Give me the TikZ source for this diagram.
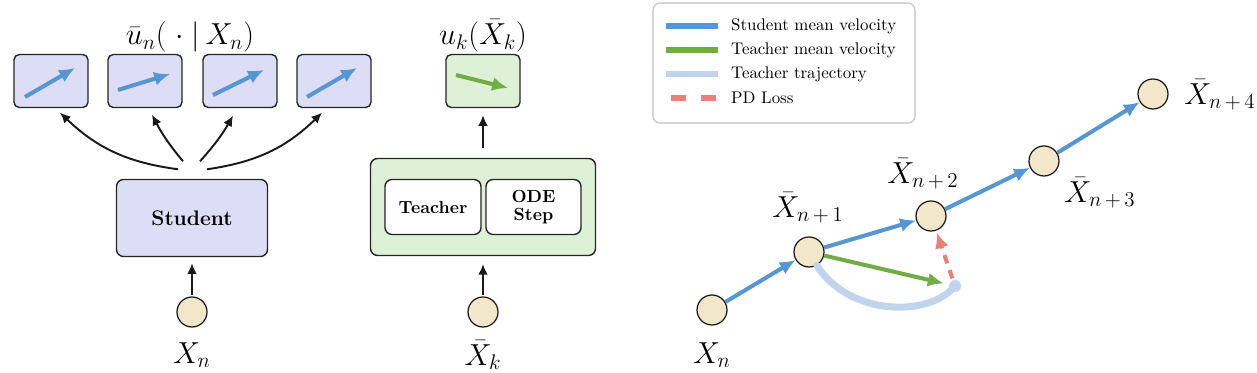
\documentclass[tikz,border=0pt]{standalone}
\usepackage{amsmath}
\usepackage{tikz}
\usetikzlibrary{arrows.meta,positioning}

\definecolor{stublue}{RGB}{86,151,211}
\definecolor{teagreen}{RGB}{112,173,71}
\definecolor{trajblue}{RGB}{192,213,237}
\definecolor{pdred}{RGB}{232,130,120}
\definecolor{stufill}{RGB}{221,221,246}
\definecolor{teafill}{RGB}{221,241,214}
\definecolor{ptfill}{RGB}{242,231,202}

\begin{document}
\begin{tikzpicture}[>={Latex[length=6pt,width=5.5pt]},
  outbox/.style={draw=black!85,rounded corners=3pt,line width=0.8pt,minimum width=1.48cm,minimum height=1.06cm},
  netbox/.style={draw=black!85,rounded corners=4pt,line width=0.8pt,align=center},
  pt/.style={circle,draw=black!90,fill=ptfill,line width=0.7pt,minimum size=0.6cm,inner sep=0pt},
  lab/.style={font=\LARGE,inner sep=0.5pt},
  legtext/.style={anchor=west,font=\fontsize{9.6}{11}\selectfont},
  flow/.style={->,line width=1.1pt,black!90},
  stuvec/.style={-{Latex[length=9pt,width=8pt]},line width=2.3pt,stublue},
  teavec/.style={-{Latex[length=9pt,width=8pt]},line width=2.3pt,teagreen},
  traj/.style={line width=4pt,trajblue,line cap=round},
  pdloss/.style={-{Latex[length=9pt,width=8pt]},line width=2.3pt,pdred,dash pattern=on 5pt off 4pt}]
\useasboundingbox (0,0) rectangle (25.14,7.46);

% student side
\node[outbox,fill=stufill] (b1) at (1.02,5.84) {};
\node[outbox,fill=stufill] (b2) at (2.90,5.84) {};
\node[outbox,fill=stufill] (b3) at (4.80,5.84) {};
\node[outbox,fill=stufill] (b4) at (6.68,5.84) {};
\node[lab] (ubar) at (3.80,6.72) {$\bar{u}_n(\;\cdot\;|\,X_n)$};
\draw[stuvec] ([shift={(-0.52,-0.32)}]b1.center) -- ([shift={(0.48,0.26)}]b1.center);
\draw[stuvec] ([shift={(-0.54,-0.18)}]b2.center) -- ([shift={(0.50,0.14)}]b2.center);
\draw[stuvec] ([shift={(-0.54,-0.28)}]b3.center) -- ([shift={(0.48,0.22)}]b3.center);
\draw[stuvec] ([shift={(-0.54,-0.32)}]b4.center) -- ([shift={(0.46,0.26)}]b4.center);

\node[netbox,fill=stufill,minimum width=3.02cm,minimum height=1.54cm,font=\large\bfseries] (stu) at (3.84,3.10) {Student};
\draw[flow] ([shift={(-0.28,0.19)}]stu.north) to[bend left=18] ([shift={(0.18,-0.09)}]b1.south);
\draw[flow] ([shift={(-0.18,0.35)}]stu.north) to[bend left=6] ([shift={(0.14,-0.13)}]b2.south);
\draw[flow] ([shift={(0.16,0.35)}]stu.north) to[bend right=6] ([shift={(-0.14,-0.15)}]b3.south);
\draw[flow] ([shift={(0.30,0.19)}]stu.north) to[bend right=18] ([shift={(-0.24,-0.09)}]b4.south);

\node[pt] (xn) at (3.84,1.22) {};
\node[lab] (xnlab) at (3.84,0.36) {$X_n$};
\draw[flow,shorten <=1pt,shorten >=3.5pt] (xn) -- (stu);

% teacher side
\node[outbox,fill=teafill] (g1) at (9.66,5.84) {};
\node[lab] (ulab) at (9.66,6.74) {$u_k(\bar{X}_k)$};
\draw[teavec] ([shift={(-0.54,0.12)}]g1.center) -- ([shift={(0.50,-0.14)}]g1.center);

\node[netbox,fill=teafill,minimum width=4.50cm,minimum height=1.94cm] (tbox) at (9.66,3.32) {};
\node[netbox,fill=white,minimum width=1.92cm,minimum height=1.10cm,font=\bfseries] (tea) at (8.66,3.32) {Teacher};
\node[netbox,fill=white,minimum width=1.90cm,minimum height=1.10cm,font=\bfseries] (ode) at (10.67,3.32) {ODE\\[-2pt]Step};
\draw[flow,shorten <=5.5pt,shorten >=4pt] (tbox) -- (g1);

\node[pt] (xk) at (9.66,1.22) {};
\node[lab] (xklab) at (9.66,0.36) {$\bar{X}_k$};
\draw[flow,shorten <=1pt,shorten >=4.5pt] (xk) -- (tbox);

% legend
\node[draw=black!25,rounded corners=4pt,line width=0.6pt,minimum width=5.24cm,minimum height=2.40cm] (leg) at (15.68,6.20) {};
\node[legtext] (l1) at (14.50,6.94) {Student mean velocity};
\node[legtext] (l2) at (14.50,6.46) {Teacher mean velocity};
\node[legtext] (l3) at (14.50,5.98) {Teacher trajectory};
\node[legtext] (l4) at (14.50,5.50) {PD Loss};
\draw[line width=3.4pt,stublue] ([xshift=-0.14cm]l1.west) -- ++(-1.04,0);
\draw[line width=3.4pt,teagreen] ([xshift=-0.14cm]l2.west) -- ++(-1.04,0);
\draw[line width=3.4pt,trajblue] ([xshift=-0.14cm]l3.west) -- ++(-1.04,0);
\draw[line width=3.4pt,pdred,dash pattern=on 0.3cm off 0.3cm,dash phase=-0.04cm] ([xshift=-0.14cm]l4.west) -- ++(-1.04,0);

% trajectory graph
\node[pt] (p0) at (14.24,1.26) {};
\node[pt] (p1) at (16.18,2.42) {};
\node[pt] (p2) at (18.62,3.14) {};
\node[pt] (p3) at (20.88,4.24) {};
\node[pt] (p4) at (23.06,5.58) {};
\node[lab] (p0lab) at (14.24,0.36) {$X_n$};
\node[lab] (p1lab) at (16.16,3.30) {$\bar{X}_{n\,+\,1}$};
\node[lab] (p2lab) at (18.46,3.98) {$\bar{X}_{n\,+\,2}$};
\node[lab] (p3lab) at (22.00,3.60) {$\bar{X}_{n\,+\,3}$};
\node[lab] (p4lab) at (24.40,5.56) {$\bar{X}_{n\,+\,4}$};
\node[circle,fill=trajblue,minimum size=0.24cm,inner sep=0pt] (tp) at (19.10,1.74) {};

\draw[traj] (p1.-60) .. controls (17.0,1.12) and (18.6,1.12) .. (tp.center);
\draw[teavec,shorten >=3pt] (p1) -- (tp);
\draw[pdloss,shorten <=1pt,shorten >=1pt] (tp) -- (p2);
\draw[stuvec] (p0) -- (p1);
\draw[stuvec] (p1) -- (p2);
\draw[stuvec] (p2) -- (p3);
\draw[stuvec] (p3) -- (p4);
\end{tikzpicture}
\end{document}
